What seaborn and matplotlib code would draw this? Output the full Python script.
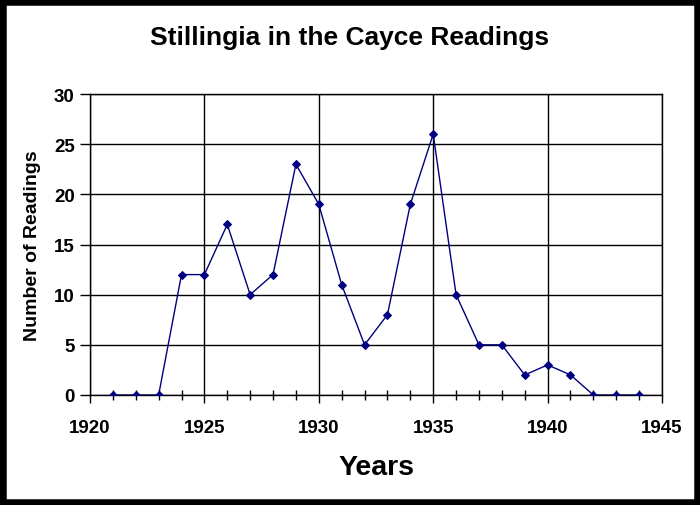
import matplotlib

matplotlib.use("Agg")

import matplotlib.pyplot as plt
import pandas as pd
import seaborn as sns
from matplotlib.patches import Rectangle
from matplotlib.ticker import MultipleLocator

years = [1921, 1922, 1923, 1924, 1925, 1926, 1927, 1928, 1929, 1930, 1931, 1932,
         1933, 1934, 1935, 1936, 1937, 1938, 1939, 1940, 1941, 1942, 1943, 1944]
readings = [0, 0, 0, 12, 12, 17, 10, 12, 23, 19, 11, 5,
            8, 19, 26, 10, 5, 5, 2, 3, 2, 0, 0, 0]

df = pd.DataFrame({"year": years, "readings": readings})

sns.set_style("white")
plt.rcParams["font.family"] = ["Liberation Sans", "DejaVu Sans"]
plt.rcParams["font.weight"] = "bold"
for key in ["text.color", "axes.labelcolor", "xtick.color", "ytick.color"]:
    plt.rcParams[key] = "black"

fig = plt.figure(figsize=(7, 5.06), dpi=100)
ax = fig.add_axes([90 / 700, 110 / 506, 572 / 700, 301 / 506])

sns.lineplot(data=df, x="year", y="readings", ax=ax, color="#000080",
             marker="D", markersize=4.5, markeredgecolor="#000080",
             linewidth=1, zorder=3)

ax.set_xlim(1920, 1945)
ax.set_ylim(0, 30)
ax.xaxis.set_major_locator(MultipleLocator(5))
ax.xaxis.set_minor_locator(MultipleLocator(1))
ax.yaxis.set_major_locator(MultipleLocator(5))
ax.grid(True, which="major", color="black", linewidth=1)
for side in ax.spines.values():
    side.set_color("black")
    side.set_linewidth(1)

ax.tick_params(axis="x", which="major", direction="out", length=6, width=1,
               labelsize=13.5, pad=11)
ax.tick_params(axis="x", which="minor", direction="inout", length=7, width=1)
ax.tick_params(axis="y", which="major", direction="out", length=7, width=1,
               labelsize=13.5, pad=4)
ax.tick_params(bottom=True, left=True)
ax.tick_params(axis="x", which="minor", bottom=True)
for lbl in ax.get_xticklabels() + ax.get_yticklabels():
    lbl.set_fontweight("bold")

ax.set_xlabel("Years", fontsize=20.5, fontweight="bold", labelpad=13)
ax.set_ylabel("Number of Readings", fontsize=14, fontweight="bold", labelpad=9)
fig.text(0.5, 1 - 38 / 506, "Stillingia in the Cayce Readings", ha="center",
         va="center", fontsize=19, fontweight="bold")

fig.patches.append(Rectangle((0, 0), 1, 1, transform=fig.transFigure,
                             fill=False, edgecolor="black", linewidth=9,
                             zorder=10))

fig.savefig("out.png", dpi=100)
